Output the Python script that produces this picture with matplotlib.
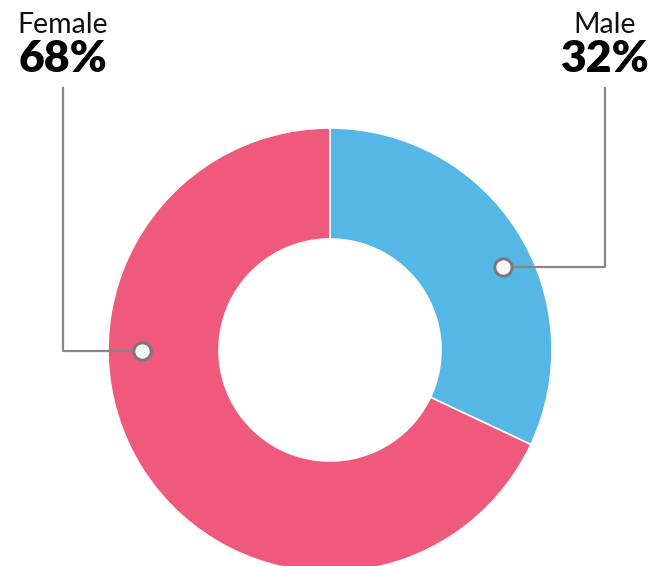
import matplotlib
matplotlib.use("Agg")
import numpy as np
import matplotlib.pyplot as plt

labels = ["Male", "Female"]
shares = [32, 68]
colors = ["#55b7e6", "#ef597b"]

W, H = 662, 566
fig = plt.figure(figsize=(W / 100, H / 100), dpi=100)
ax = fig.add_axes([0, 0, 1, 1])

cx, cy, r = 330, H - 350, 222
ax.pie(shares, colors=colors, startangle=90, counterclock=False,
       center=(cx, cy), radius=r, frame=True,
       wedgeprops=dict(width=r * 0.5, edgecolor="white", linewidth=1.2))
ax.set_xlim(0, W)
ax.set_ylim(0, H)
ax.set_aspect("equal")
ax.axis("off")

grey = "#878787"
# callouts: (name, value, dot angle, dot radius, elbow x); text sits centred over the elbow
callouts = [
    (labels[0], shares[0], 25.5, 192, 605),
    (labels[1], shares[1], 180.3, 188, 63),
]
for name, val, ang, rr, ex in callouts:
    a = np.radians(ang)
    dx, dy = cx + rr * np.cos(a), cy + rr * np.sin(a)
    top = H - 88
    ax.plot([dx, ex, ex], [dy, dy, top], color=grey, lw=1.6, zorder=3)
    ax.plot(dx, dy, "o", ms=12.5, mfc="#f7f7f7", mec="#7a7a7a", mew=2.2, zorder=4)
    ax.text(ex, H - 33, name, ha="center", va="baseline", fontsize=20.5,
            family="Lato", color="#111111")
    ax.text(ex, H - 72, f"{val}%", ha="center", va="baseline", fontsize=32,
            family="Lato", fontweight="heavy", color="#000000")

fig.savefig("out.png", dpi=100, facecolor="white")
